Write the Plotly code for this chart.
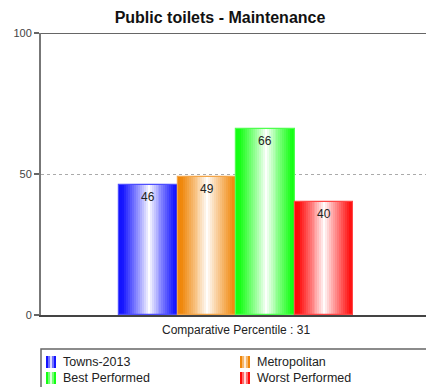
import plotly.graph_objects as go

# Chart data
title = "Public toilets - Maintenance"
series = ["Towns-2013", "Metropolitan", "Best Performed", "Worst Performed"]
values = [46, 49, 66, 40]
base_colors = [(20, 20, 255), (240, 135, 10), (20, 255, 20), (255, 10, 10)]
percentile_label = "Comparative Percentile : 31"
y_ticks = [0, 50, 100]

W, H = 426, 387
ML, MR, MT, MB = 41, 0, 33, 72
FONT = "Liberation Sans, Arial, sans-serif"

fig = go.Figure()

N = 30  # slices per bar used to build the horizontal shading


def shade(rgb, t):
    # colour at fraction t across the bar: saturated edges, white near the middle
    d = abs(t - 0.52) / 0.52
    f = min(1.0, d ** 0.9 * 1.15)
    r, g, b = (int(round(255 * (1 - f) + c * f)) for c in rgb)
    return f"rgb({r},{g},{b})"


centers = [i - (len(values) - 1) / 2 for i in range(len(values))]
for cx, v, rgb, name in zip(centers, values, base_colors, series):
    xs = [cx - 0.5 + (k + 0.5) / N for k in range(N)]
    cols = [shade(rgb, (k + 0.5) / N) for k in range(N)]
    fig.add_trace(go.Bar(x=xs, y=[v] * N, width=1 / N, marker=dict(color=cols, line=dict(width=0)),
                         showlegend=False, hoverinfo="skip", name=name))
    # thin outline around the whole bar, with the value printed inside the top
    light = "rgb(%d,%d,%d)" % tuple(int(c * 0.75 + 255 * 0.25) for c in rgb)
    fig.add_trace(go.Bar(x=[cx], y=[v], width=1, marker=dict(color="rgba(0,0,0,0)", line=dict(color=light, width=1.2)),
                         showlegend=False, hoverinfo="skip"))
    fig.add_annotation(x=cx, y=v, text=str(v), showarrow=False, yanchor="top", yshift=-3,
                       font=dict(size=12, color="#222222", family=FONT))

fig.add_annotation(x=0, y=0, xref="x", yref="paper", text=percentile_label, showarrow=False,
                   yanchor="top", yshift=-6,
                   font=dict(size=12, color="#222222", family=FONT))

pw = W - ML - MR
ph = H - MT - MB


def px_x(x):
    return (x - ML) / pw


def px_y(y):
    return (H - MB - y) / ph


# Legend drawn as a bordered box with shaded swatches
legend_top = 349
fig.add_shape(type="rect", xref="paper", yref="paper",
              x0=0, x1=px_x(W + 10), y0=px_y(legend_top + 60), y1=px_y(legend_top),
              line=dict(color="#666666", width=1.5), fillcolor="rgba(0,0,0,0)")

legend_pos = [(46, 356), (240, 356), (46, 372), (240, 372)]
for (lx, ly), rgb, name in zip(legend_pos, base_colors, series):
    stripe = [1.0, 0.6, 0.15, 0.6, 1.0]
    for j, f in enumerate(stripe):
        r, g, b = (int(round(255 * (1 - f) + c * f)) for c in rgb)
        fig.add_shape(type="rect", xref="paper", yref="paper",
                      x0=px_x(lx + 2 * j), x1=px_x(lx + 2 * j + 2),
                      y0=px_y(ly + 12), y1=px_y(ly),
                      line=dict(width=0), fillcolor=f"rgb({r},{g},{b})")
    fig.add_annotation(xref="paper", yref="paper", x=px_x(lx + 15), y=px_y(ly + 6), text=name,
                       showarrow=False, xanchor="left", yanchor="middle",
                       font=dict(size=12.5, color="#222222", family=FONT))

bw = 58.5
left_units = (119 - ML) / bw + 2
fig.update_layout(
    width=W, height=H,
    margin=dict(l=ML, r=MR, t=MT, b=MB),
    paper_bgcolor="white", plot_bgcolor="white",
    barmode="overlay", bargap=0,
    showlegend=False,
    title=dict(text="<b>" + title + "</b>", x=220 / W, xanchor="center", y=1 - 17 / H, yanchor="middle",
               font=dict(size=16, color="#111111", family=FONT)),
    xaxis=dict(range=[-left_units, -left_units + pw / bw], showticklabels=False, showgrid=False,
               zeroline=False, showline=True, linecolor="#444444", linewidth=1.5, mirror=False,
               fixedrange=True),
    yaxis=dict(range=[0, 100], tickvals=y_ticks, ticks="outside", ticklen=5, tickcolor="#666666",
               tickwidth=1.5, showline=True, linecolor="#777777", linewidth=2,
               showgrid=True, gridcolor="#aaaaaa", griddash="3px,3px", gridwidth=1,
               zeroline=False, tickfont=dict(size=11, color="#444444", family=FONT)),
)
# solid top border at 100
fig.add_shape(type="line", xref="paper", yref="y", x0=0, x1=1, y0=100, y1=100,
              line=dict(color="#666666", width=2))

fig.write_html("out.html")
